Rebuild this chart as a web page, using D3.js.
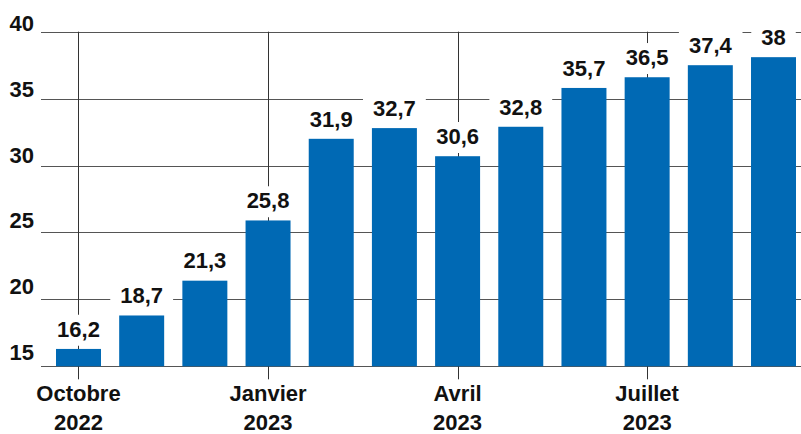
<!DOCTYPE html>
<html>
<head>
<meta charset="utf-8">
<script src="https://cdn.jsdelivr.net/npm/d3@7"></script>
<style>
  body { margin: 0; background: #fff; }
  text { font-family: "Liberation Sans", Arial, sans-serif; font-weight: bold; fill: #111; }
</style>
</head>
<body>
<div id="chart"></div>
<script>
var months = ['2022-10', '2022-11', '2022-12', '2023-01', '2023-02', '2023-03',
	'2023-04', '2023-05', '2023-06', '2023-07', '2023-08', '2023-09'];
var values = [16.2, 18.7, 21.3, 25.8, 31.9, 32.7, 30.6, 32.8, 35.7, 36.5, 37.4, 38];
var valueLabels = ['16,2', '18,7', '21,3', '25,8', '31,9', '32,7', '30,6', '32,8', '35,7', '36,5', '37,4', '38'];
var yTicks = [15, 20, 25, 30, 35, 40];
var quarterMonths = ['2022-10', '2023-01', '2023-04', '2023-07'];
var quarterLabels = [['Octobre', '2022'], ['Janvier', '2023'], ['Avril', '2023'], ['Juillet', '2023']];

var width = 801, height = 434;

var svg = d3.select('#chart')
	.append('svg')
	.attr('width', width)
	.attr('height', height);

var x = d3.scaleBand()
	.domain(months)
	.range([56, 796])
	.paddingInner(0.288)
	.paddingOuter(0);

var y = d3.scaleLinear()
	.domain([15, 40])
	.range([366.3, 31.7]);

// horizontal grid
svg.append('g')
	.selectAll('line')
	.data(yTicks)
	.enter()
	.append('line')
	.attr('x1', 41)
	.attr('x2', width)
	.attr('y1', function(d) { return Math.round(y(d)) + 0.5; })
	.attr('y2', function(d) { return Math.round(y(d)) + 0.5; })
	.attr('stroke', '#555')
	.attr('stroke-width', 1);

// quarter lines
svg.append('g')
	.selectAll('line')
	.data(quarterMonths)
	.enter()
	.append('line')
	.attr('x1', function(d) { return Math.round(x(d) + x.bandwidth() / 2) + 0.5; })
	.attr('x2', function(d) { return Math.round(x(d) + x.bandwidth() / 2) + 0.5; })
	.attr('y1', y(40))
	.attr('y2', y(15) + 13)
	.attr('stroke', '#333')
	.attr('stroke-width', 1);

// y labels
svg.append('g')
	.selectAll('text')
	.data(yTicks)
	.enter()
	.append('text')
	.attr('x', 34)
	.attr('y', function(d) { return y(d) - 1 - (40 - d) * 0.2; })
	.attr('text-anchor', 'end')
	.style('font-size', '22px')
	.text(function(d) { return d; });

// bars
svg.append('g')
	.selectAll('rect')
	.data(values)
	.enter()
	.append('rect')
	.attr('x', function(d, i) { return x(months[i]); })
	.attr('width', x.bandwidth())
	.attr('y', function(d) { return y(d) - 1.3; })
	.attr('height', function(d) { return y(15) - y(d) + 1.3; })
	.attr('fill', '#0069b4');

// value labels with white backing
var labels = svg.append('g')
	.selectAll('g')
	.data(values)
	.enter()
	.append('g')
	.attr('transform', function(d, i) {
		return 'translate(' + (x(months[i]) + x.bandwidth() / 2) + ',' + (y(d) - 13.5) + ')';
	});

labels.append('text')
	.attr('text-anchor', 'middle')
	.style('font-size', '22px')
	.text(function(d, i) { return valueLabels[i]; });

labels.each(function() {
	var g = d3.select(this);
	var bb = g.select('text').node().getBBox();
	g.insert('rect', 'text')
		.attr('x', bb.x - 10)
		.attr('y', bb.y - 2)
		.attr('width', bb.width + 20)
		.attr('height', bb.height + 6)
		.attr('fill', '#fff');
});

// x labels
var xl = svg.append('g')
	.selectAll('text')
	.data(quarterMonths)
	.enter()
	.append('text')
	.attr('text-anchor', 'middle')
	.style('font-size', '22px')
	.attr('transform', function(d) {
		return 'translate(' + (x(d) + x.bandwidth() / 2) + ',401)';
	});

xl.each(function(d, i) {
	var el = d3.select(this);
	quarterLabels[i].forEach(function(s, k) {
		el.append('tspan')
			.attr('x', 0)
			.attr('y', k * 29)
			.text(s);
	});
});
</script>
</body>
</html>
